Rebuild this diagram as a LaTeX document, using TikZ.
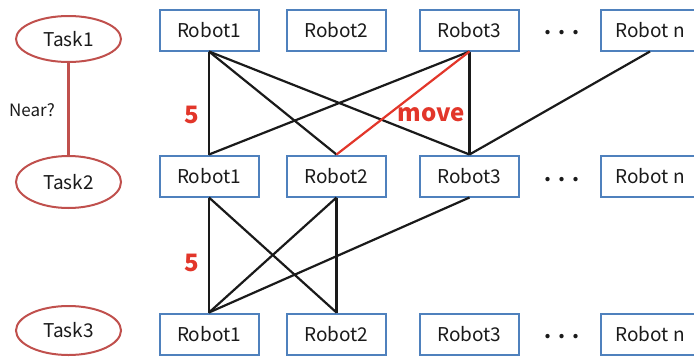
\documentclass[tikz,border=0pt]{standalone}
\usepackage{fontspec}
\setmainfont{Noto Sans CJK JP}
\usetikzlibrary{shapes.geometric}
\definecolor{boxblue}{HTML}{4F81BD}
\definecolor{taskred}{HTML}{C0504D}
\definecolor{hired}{HTML}{E2362A}
\definecolor{ink}{HTML}{1A1A1A}

\begin{document}
\begin{tikzpicture}[x=1pt,y=-1pt,
  robot/.style={draw=boxblue, line width=2pt, minimum width=99pt, minimum height=41pt,
    inner sep=0pt, text=ink, font=\fontsize{19}{21}\selectfont},
  task/.style={ellipse, draw=taskred, line width=2pt, inner sep=0pt, minimum width=105pt,
    text=ink, font=\fontsize{19}{21}\selectfont},
  dots/.style={inner sep=0pt, text=ink, font=\fontsize{20}{22}\selectfont\bfseries},
  link/.style={line width=2.2pt, ink},
  redlink/.style={line width=2.2pt, hired},
  weight/.style={inner sep=0pt, text=hired, font=\fontsize{24}{26}\selectfont\bfseries},
  note/.style={inner sep=0pt, text=ink, font=\fontsize{17}{19}\selectfont}
]
\useasboundingbox (0,0) rectangle (694,357);
\clip (0,0) rectangle (694,357);

% tasks
\node[task, minimum height=46pt] (t1) at (68.5,39) {Task1};
\node[task, minimum height=52pt] (t2) at (68.5,182) {Task2};
\node[task, minimum height=49pt] (t3) at (68.5,330.5) {Task3};
\draw[taskred, line width=2.6pt] (t1.south) -- (t2.north);
\node[note] (near) at (32,110) {Near?};

% robot rows
\foreach \r/\y in {a/30, b/176, c/334} {
  \node[robot] (\r1) at (209,\y) {Robot1};
  \node[robot] (\r2) at (336.5,\y) {Robot2};
  \node[robot] (\r3) at (469.5,\y) {Robot3};
  \node[robot] (\r n) at (650,\y) {Robot n};
}
\node[dots] (da) at (562,33) {.\hspace{7pt}.\hspace{7pt}.};
\node[dots] (db) at (562,180) {.\hspace{7pt}.\hspace{7pt}.};
\node[dots] (dc) at (562,337) {.\hspace{7pt}.\hspace{7pt}.};

% assignments between Task1 and Task2
\draw[link] (a1.south) -- (b1.north);
\draw[link] (a1.south) -- (b2.north);
\draw[link] (a1.south) -- (b3.north);
\draw[link] (a3.south) -- (b1.north);
\draw[link] (a3.south) -- (b3.north);
\draw[link] (an.south) -- (b3.north);
\draw[redlink] (a3.south) -- (b2.north);

% assignments between Task2 and Task3
\draw[link] (b1.south) -- (c1.north);
\draw[link] (b1.south) -- (c2.north);
\draw[link] (b2.south) -- (c1.north);
\draw[link] (b2.south) -- (c2.north);
\draw[link] (b3.south) -- (c1.north);

% labels
\node[weight] (w1) at (192,115) {5};
\node[weight] (w2) at (192,263) {5};
\node[weight] (mv) at (431.5,115) {move};
\end{tikzpicture}
\end{document}
